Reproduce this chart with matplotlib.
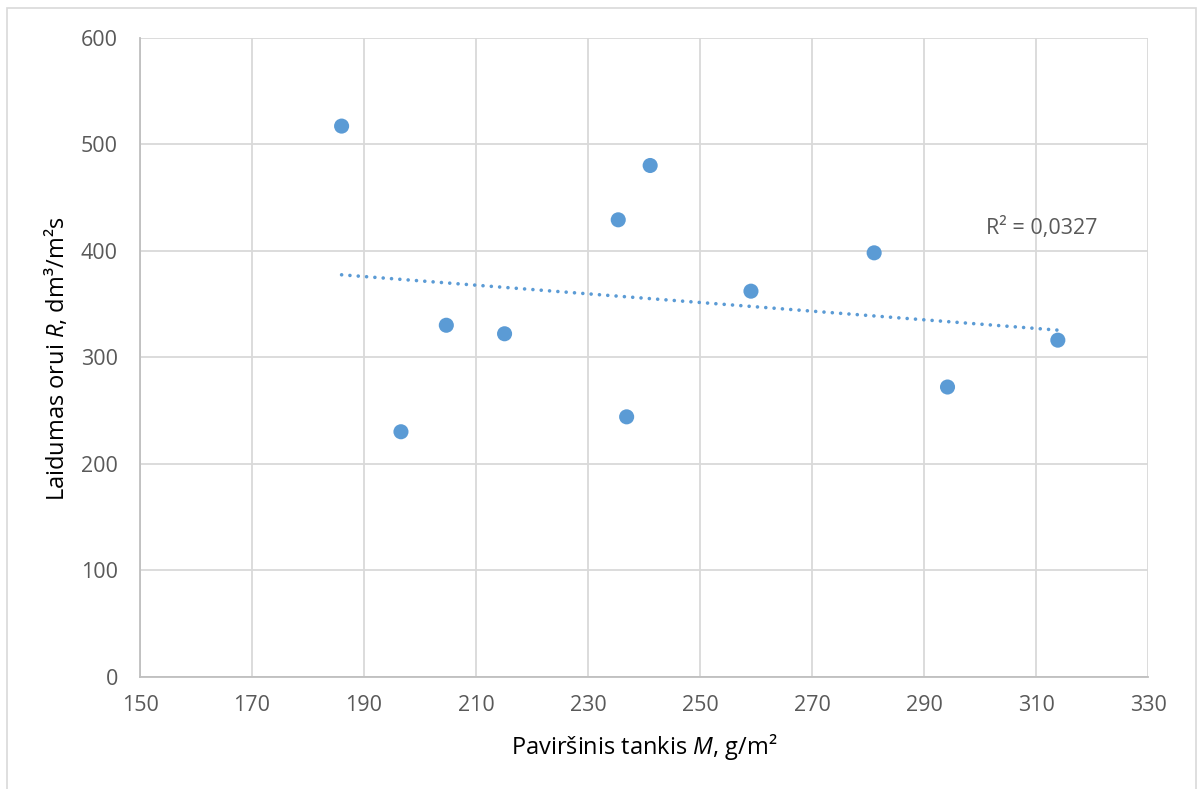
import matplotlib
matplotlib.use("Agg")
import matplotlib.pyplot as plt
from matplotlib.patches import Rectangle
import numpy as np

# surface density M (g/m2) vs air permeability R (dm3/m2s)
mass = [186.0, 196.6, 204.7, 215.1, 235.4, 236.9, 241.1, 259.1, 281.1, 294.2, 313.9]
perm = [517, 230, 330, 322, 429, 244, 480, 362, 398, 272, 316]
r2_text = "R² = 0,0327"

x_ticks = list(range(150, 331, 20))
y_ticks = list(range(0, 601, 100))

plt.rcParams["font.family"] = ["Open Sans", "DejaVu Sans"]
plt.rcParams["mathtext.fontset"] = "custom"
plt.rcParams["mathtext.rm"] = "Open Sans"
plt.rcParams["mathtext.it"] = "Open Sans:italic"

blue = "#5B9BD5"
grid = "#D9D9D9"
tick_col = "#595959"
fs_tick = 15.5
fs_title = 17

fig = plt.figure(figsize=(11.98, 7.89), dpi=100)
ax = fig.add_axes([140 / 1198, 1 - 676.7 / 789, 1008 / 1198, 639 / 789])

# trendline (linear fit over the data range)
k, b = np.polyfit(mass, perm, 1)
xs = np.array([min(mass), max(mass)])
ax.plot(xs, k * xs + b, color=blue, lw=2.6, linestyle=(0, (0.01, 2.3)),
        dash_capstyle="round", zorder=3)

ax.scatter(mass, perm, s=118, color=blue, edgecolors="none", zorder=4)

ax.set_xlim(150, 330)
ax.set_ylim(0, 600)
ax.set_xticks(x_ticks)
ax.set_yticks(y_ticks)
ax.tick_params(length=0, labelsize=fs_tick, labelcolor=tick_col)
ax.tick_params(axis="x", pad=13)
ax.tick_params(axis="y", pad=16)
ax.grid(True, color=grid, lw=1.3, zorder=0)
ax.set_axisbelow(True)
for side in ["top", "right"]:
    ax.spines[side].set_visible(False)
for side in ["left", "bottom"]:
    ax.spines[side].set_color("#BFBFBF")
    ax.spines[side].set_linewidth(1.3)

ax.text(311.1, 421.6, r2_text, ha="center", va="center", fontsize=fs_tick, color=tick_col)

fig.text(644 / 1198, 1 - 754 / 789, r"Paviršinis tankis $M$, g/m²",
         ha="center", va="baseline", fontsize=fs_title, color="black")
fig.text(57 / 1198, 1 - 359 / 789, r"Laidumas orui $R$, dm³/m²s",
         ha="center", va="center", rotation=90, fontsize=fs_title, color="black")

# outer chart border
fig.patches.append(Rectangle((7 / 1198, -0.02), 1189 / 1198, 1 - 8 / 789 + 0.02,
                             transform=fig.transFigure, fill=False,
                             edgecolor=grid, lw=1.2))

fig.savefig("out.png", dpi=100)
